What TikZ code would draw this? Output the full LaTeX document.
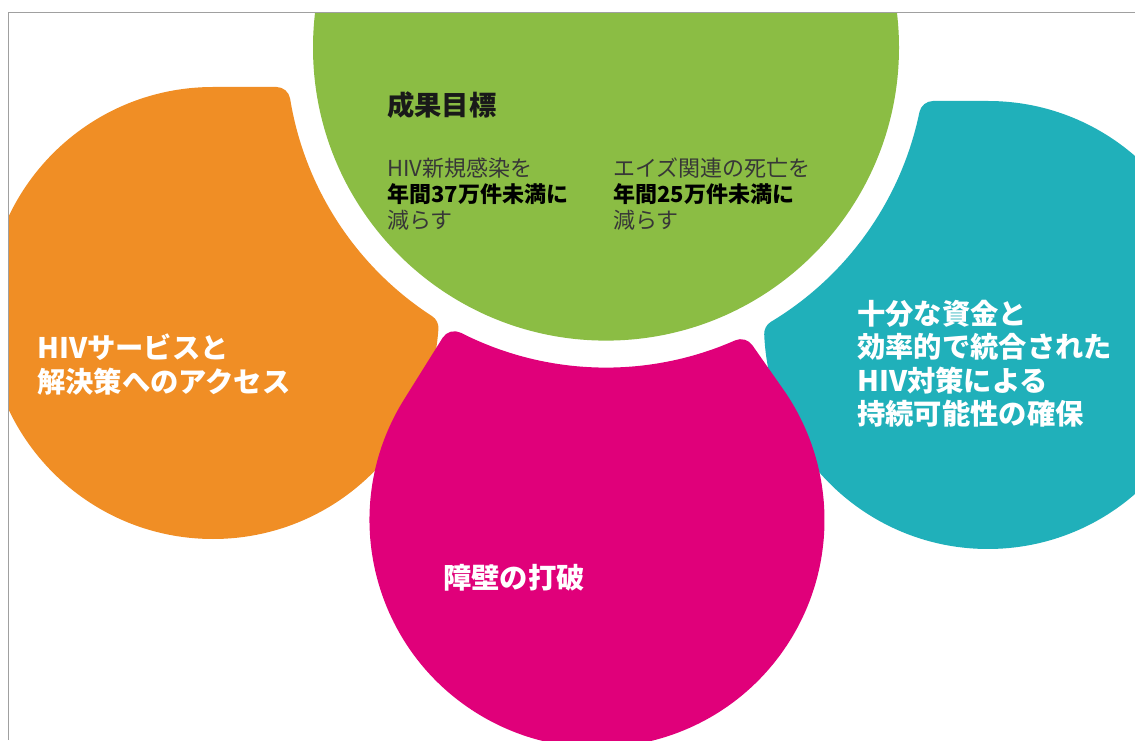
\documentclass[tikz,border=0pt]{standalone}
\usepackage{fontspec}
\newfontfamily\jp{Noto Sans CJK JP}
\definecolor{orangeC}{RGB}{240,142,37}
\definecolor{greenC}{RGB}{139,189,68}
\definecolor{pinkC}{RGB}{224,0,122}
\definecolor{tealC}{RGB}{32,176,186}
\definecolor{frameC}{RGB}{160,160,160}
\definecolor{darkC}{RGB}{55,55,55}
% Ring: centre (606,692.4), radius 320; fillet radius 14. All computations in units of 100pt.
% fillet where a straight edge meets the ring: #1 Px, #2 Py (tangent point), #3 dx, #4 dy (unit, toward ring), #5 Sx, #6 Sy
\newcommand\filletline[6]{%
  \pgfmathsetmacro\fPx{(#1)/100}\pgfmathsetmacro\fPy{(#2)/100}%
  \pgfmathsetmacro\fnx{((#5)-(#1))/100}\pgfmathsetmacro\fny{((#6)-(#2))/100}%
  \pgfmathsetmacro\fnl{sqrt((\fnx)*(\fnx)+(\fny)*(\fny))}%
  \pgfmathsetmacro\fnx{(\fnx)/(\fnl)}\pgfmathsetmacro\fny{(\fny)/(\fnl)}%
  \pgfmathsetmacro\fQx{\fPx+0.14*(\fnx)-6.06}\pgfmathsetmacro\fQy{\fPy+0.14*(\fny)-6.924}%
  \pgfmathsetmacro\fQd{(\fQx)*(#3)+(\fQy)*(#4)}%
  \pgfmathsetmacro\fQQ{(\fQx)*(\fQx)+(\fQy)*(\fQy)}%
  \pgfmathsetmacro\ft{0-(\fQd)-sqrt((\fQd)*(\fQd)-(\fQQ)+3.34*3.34)}%
  \pgfmathsetmacro\fCx{\fPx+0.14*(\fnx)+(\ft)*(#3)}\pgfmathsetmacro\fCy{\fPy+0.14*(\fny)+(\ft)*(#4)}%
  \pgfmathsetmacro\fTx{100*(\fPx+(\ft)*(#3))}\pgfmathsetmacro\fTy{100*(\fPy+(\ft)*(#4))}%
  \pgfmathsetmacro\fBA{atan2(0-(\fny),0-(\fnx))}%
  \pgfmathsetmacro\fRA{atan2(6.924-(\fCy),6.06-(\fCx))}%
  \pgfmathsetmacro\fGA{atan2((\fCy)-6.924,(\fCx)-6.06)}%
}
% fillet where the circle (#1,#2) radius #3 meets the ring; #4 = +1 or -1 side
\newcommand\filletcirc[4]{%
  \pgfmathsetmacro\fdX{((#1)-606)/100}\pgfmathsetmacro\fdY{((#2)-692.4)/100}%
  \pgfmathsetmacro\fD{sqrt((\fdX)*(\fdX)+(\fdY)*(\fdY))}%
  \pgfmathsetmacro\fPh{atan2(\fdY,\fdX)}%
  \pgfmathsetmacro\fb{((#3)-14)/100}%
  \pgfmathsetmacro\fTh{acos((3.34*3.34+(\fD)*(\fD)-(\fb)*(\fb))/(2*3.34*(\fD)))}%
  \pgfmathsetmacro\fGA{\fPh+(#4)*(\fTh)}%
  \pgfmathsetmacro\fCx{6.06+3.34*cos(\fGA)}\pgfmathsetmacro\fCy{6.924+3.34*sin(\fGA)}%
  \pgfmathsetmacro\fBA{atan2((\fCy)-(#2)/100,(\fCx)-(#1)/100)}%
  \pgfmathsetmacro\fTx{(#1)+(#3)*cos(\fBA)}\pgfmathsetmacro\fTy{(#2)+(#3)*sin(\fBA)}%
  \pgfmathsetmacro\fRA{\fGA+180}%
}
\newcommand\savecorner[1]{%
  \expandafter\let\csname #1Tx\endcsname\fTx
  \expandafter\let\csname #1Ty\endcsname\fTy
  \expandafter\let\csname #1BA\endcsname\fBA
  \expandafter\let\csname #1RA\endcsname\fRA
  \expandafter\let\csname #1GA\endcsname\fGA}
\tikzset{
  bigtxt/.style={font=\jp\bfseries\fontsize{28.3}{33.5}\selectfont, text=white, inner sep=0pt, align=left},
  smalltxt/.style={font=\jp\fontsize{22}{26}\selectfont, text=darkC, inner sep=0pt, align=left},
  titletxt/.style={font=\jp\bfseries\fontsize{27.3}{30}\selectfont, text=black!90, inner sep=0pt}
}
\begin{document}
\begin{tikzpicture}[x=1pt,y=1pt]
\useasboundingbox (0,0) rectangle (1135,740);
\fill[white] (0,0) rectangle (1135,740);
% ---- corner computations
% orange: circle (213,427) r 226, tip at top-right
\filletline{213}{653}{1}{0}{213}{427}\savecorner{oA}
\filletcirc{213}{427}{226}{1}\savecorner{oB}
\pgfmathsetmacro\oDa{mod(\oBBA-90+720,360)}
\pgfmathsetmacro\oDb{mod(\oBRA-\oBBA+720,360)}
\pgfmathsetmacro\oDc{0-mod(\oBGA-\oAGA+720,360)}
\pgfmathsetmacro\oDd{mod(\oABA-\oARA+720,360)}
% teal: circle (988,415) r 224, tip at top-left
\filletline{988}{639}{-1}{0}{988}{415}\savecorner{tA}
\filletcirc{988}{415}{224}{-1}\savecorner{tB}
\pgfmathsetmacro\tDa{mod(90-\tBBA+720,360)}
\pgfmathsetmacro\tDb{mod(\tARA-\tABA+720,360)}
\pgfmathsetmacro\tDc{0-mod(\tAGA-\tBGA+720,360)}
\pgfmathsetmacro\tDd{mod(\tBBA-\tBRA+720,360)}
% pink: circle (597,220) r 227.5, tip at top, tangents at 148 and 35 degrees
\filletline{783.36}{350.49}{-0.57358}{0.81915}{597}{220}\savecorner{pR}
\filletline{404.07}{340.56}{0.52992}{0.84805}{597}{220}\savecorner{pL}
\pgfmathsetmacro\pDb{mod(\pRRA-\pRBA+720,360)}
\pgfmathsetmacro\pDc{0-mod(\pRGA-\pLGA+720,360)}
\pgfmathsetmacro\pDd{mod(\pLBA-\pLRA+720,360)}
\begin{scope}
  \clip (8,0) rectangle (1135,727);
  \fill[orangeC] (\oATx,\oATy) -- (213,653)
     arc[start angle=90, delta angle=\oDa, radius=226]
     arc[start angle=\oBBA, delta angle=\oDb, radius=14]
     arc[start angle=\oBGA, delta angle=\oDc, radius=320]
     arc[start angle=\oARA, delta angle=\oDd, radius=14] -- cycle;
  \fill[tealC] (\tBTx,\tBTy)
     arc[start angle=\tBBA, delta angle=\tDa, radius=224] -- (\tATx,\tATy)
     arc[start angle=\tABA, delta angle=\tDb, radius=14]
     arc[start angle=\tAGA, delta angle=\tDc, radius=320]
     arc[start angle=\tBRA, delta angle=\tDd, radius=14] -- cycle;
  \fill[pinkC] (404.07,340.56)
     arc[start angle=148, delta angle=247, radius=227.5] -- (\pRTx,\pRTy)
     arc[start angle=\pRBA, delta angle=\pDb, radius=14]
     arc[start angle=\pRGA, delta angle=\pDc, radius=320]
     arc[start angle=\pLRA, delta angle=\pDd, radius=14] -- cycle;
  \fill[greenC] (606,692.4) circle[radius=293];
\end{scope}
\draw[frameC, line width=1pt] (8,0) -- (8,727) -- (1135,727);
\node[titletxt, anchor=west] (goal) at (387,635) {成果目標};
\node[smalltxt, anchor=west] (goalA) at (387,546) {HIV新規感染を\\\textbf{\color{black}年間37万件未満に}\\減らす};
\node[smalltxt, anchor=west] (goalB) at (613,546) {エイズ関連の死亡を\\\textbf{\color{black}年間25万件未満に}\\減らす};
\node[bigtxt, anchor=west] (access) at (37,375.5) {HIVサービスと\\解決策へのアクセス};
\node[bigtxt, anchor=west] (barrier) at (443,162) {障壁の打破};
\node[bigtxt, anchor=west] (sustain) at (857,376.5) {十分な資金と\\効率的で統合された\\HIV対策による\\持続可能性の確保};
\end{tikzpicture}
\end{document}
